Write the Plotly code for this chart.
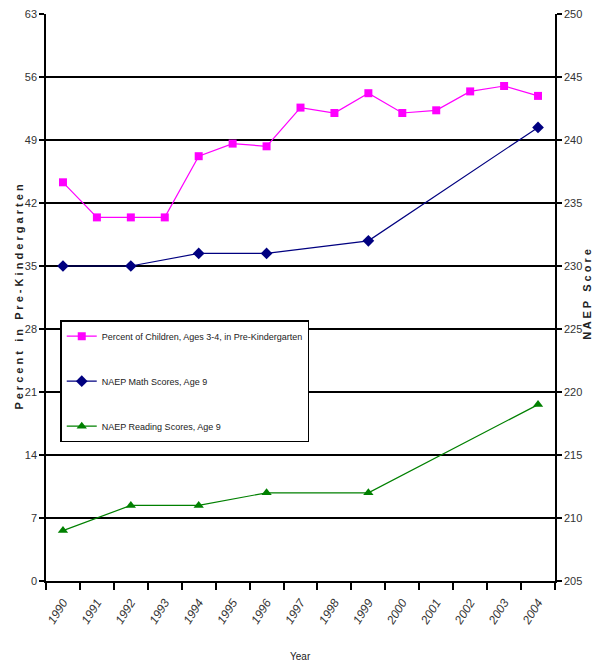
import plotly.graph_objects as go

years = [str(y) for y in range(1990, 2005)]
prek_pct = [44.3, 40.4, 40.4, 40.4, 47.2, 48.6, 48.3, 52.6, 52.0, 54.2, 52.0, 52.3, 54.4, 55.0, 53.9]
naep_years = ["1990", "1992", "1994", "1996", "1999", "2004"]
math_scores = [230, 230, 231, 231, 232, 241]
reading_scores = [209, 211, 211, 212, 212, 219]

left_ticks = [0, 7, 14, 21, 28, 35, 42, 49, 56, 63]
right_ticks = [205, 210, 215, 220, 225, 230, 235, 240, 245, 250]

font_main = "Liberation Sans Narrow, Arial Narrow, Liberation Sans, Arial, sans-serif"
font_bold = "Liberation Sans, Arial, sans-serif"

fig = go.Figure()
fig.add_trace(go.Scatter(
    x=years, y=prek_pct, mode="lines+markers", name="Percent of Children, Ages 3-4, in Pre-Kindergarten",
    line=dict(color="#FF00FF", width=1.2), marker=dict(symbol="square", size=8, color="#FF00FF"),
    legendgroup="a", yaxis="y"))
fig.add_trace(go.Scatter(
    x=naep_years, y=math_scores, mode="lines+markers", name="NAEP Math Scores, Age 9",
    line=dict(color="#000080", width=1.2), marker=dict(symbol="diamond", size=9, color="#000080"),
    legendgroup="b", yaxis="y2"))
fig.add_trace(go.Scatter(
    x=naep_years, y=reading_scores, mode="lines+markers", name="NAEP Reading Scores, Age 9",
    line=dict(color="#008000", width=1.2), marker=dict(symbol="triangle-up", size=9, color="#008000"),
    legendgroup="c", yaxis="y2"))

fig.update_layout(
    width=601, height=664,
    margin=dict(l=46, r=46, t=14, b=83),
    plot_bgcolor="white", paper_bgcolor="white",
    font=dict(family=font_main, size=11, color="#222"),
    xaxis=dict(
        type="category", categoryorder="array", categoryarray=years, automargin=False,
        range=[-0.5, 14.5], tickangle=-58, ticks="outside", ticklen=7, tickwidth=1.5,
        tickcolor="black", tickson="boundaries", showline=True, linecolor="black", linewidth=1.5,
        showgrid=False, tickfont=dict(size=12, color="#333", style="italic"), ticklabelstandoff=8,
    ),
    yaxis=dict(
        range=[0, 63], tickvals=left_ticks, ticks="outside", ticklen=5, tickwidth=1.5, automargin=False,
        tickcolor="black", showline=True, linecolor="black", linewidth=1.5,
        showgrid=True, gridcolor="black", gridwidth=1.5, zeroline=False,
        tickfont=dict(size=11, color="#333"),
    ),
    yaxis2=dict(
        range=[205, 250], tickvals=right_ticks, overlaying="y", side="right", automargin=False,
        ticks="outside", ticklen=5, tickwidth=1.5, tickcolor="black",
        showline=True, linecolor="black", linewidth=1.5, showgrid=False, zeroline=False,
        tickfont=dict(size=11, color="#333"),
    ),
    legend=dict(
        x=0.028, y=0.46, xanchor="left", yanchor="top",
        bgcolor="white", bordercolor="black", borderwidth=1.5,
        font=dict(size=9, color="#222"), tracegroupgap=26,
        itemwidth=30,
    ),
    showlegend=True,
    annotations=[
        dict(text="<b>P e r c e n t   i n   P r e - K i n d e r g a r t e n</b>",
             xref="paper", yref="paper", x=-0.055, y=0.5, xanchor="center", yanchor="middle",
             textangle=-90, showarrow=False, font=dict(size=11, color="#222", family=font_bold)),
        dict(text="<b>N A E P   S c o r e</b>",
             xref="paper", yref="paper", x=1.063, y=0.505, xanchor="center", yanchor="middle",
             textangle=-90, showarrow=False, font=dict(size=11, color="#222", family=font_bold)),
        dict(text="Year", xref="paper", yref="paper", x=0.5, y=-0.133, xanchor="center", yanchor="middle",
             showarrow=False, font=dict(size=10, color="#222")),
    ],
)

fig.write_html("out.html", config={"displayModeBar": False},
               post_script="document.body.style.margin='0px';document.body.style.overflow='hidden';")
